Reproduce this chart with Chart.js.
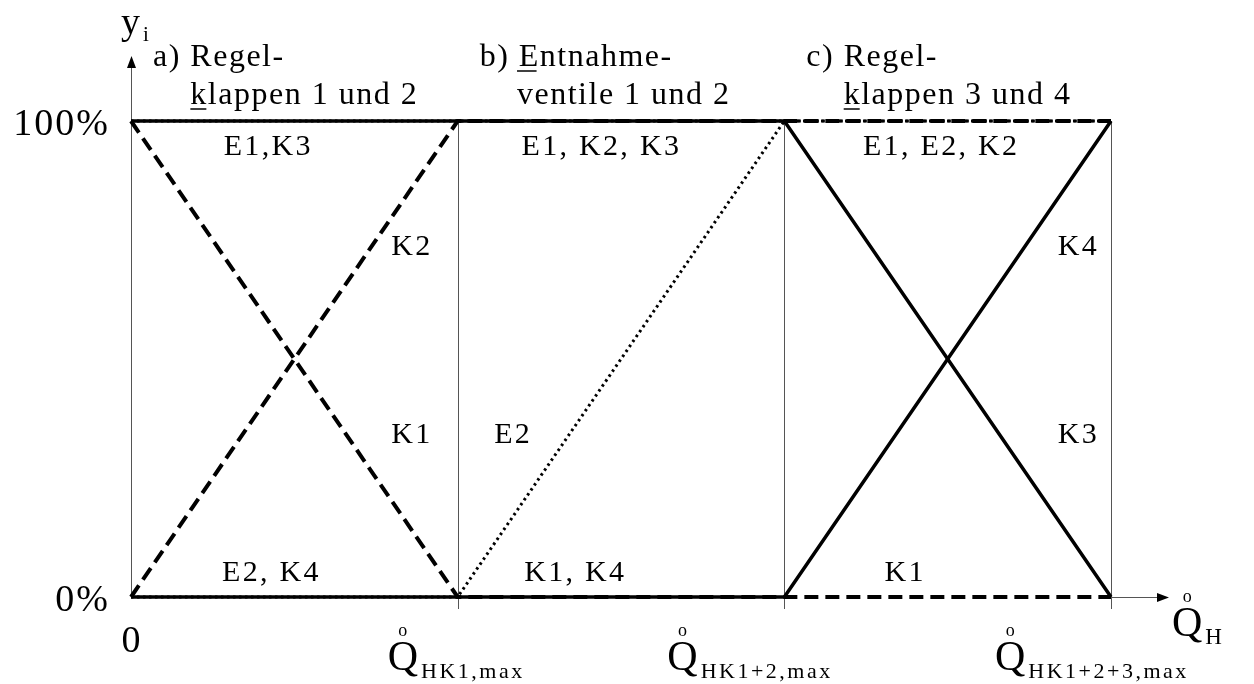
<!DOCTYPE html>
<html>
<head>
<meta charset="utf-8">
<script src="https://cdn.jsdelivr.net/npm/chart.js@4.4.0/dist/chart.umd.min.js"></script>
<style>
  html, body { margin: 0; padding: 0; background: #fff; }
  #wrap { width: 1254px; height: 684px; }
</style>
</head>
<body>
<div id="wrap"><canvas id="chart" width="1254" height="684"></canvas></div>
<script>
// x positions: 0, Q HK1,max, Q HK1+2,max, Q HK1+2+3,max
var xPos = [0, 1, 2, 3];
var xTickMain = ['0', 'Q', 'Q', 'Q'];
var xTickSub = ['', 'HK1,max', 'HK1+2,max', 'HK1+2+3,max'];
var yTicks = [0, 100];
var yTickLabels = ['0%', '100%'];

// valve positions y_i in % at each x position
var E1 = [100, 100, 100, 100];
var E2 = [0, 0, 100, 100];
var K1 = [100, 0, 0, 0];
var K2 = [0, 100, 100, 100];
var K3 = [100, 100, 100, 0];
var K4 = [0, 0, 0, 100];

// labels written inside the plot (x, y in data units)
var curveLabels = [
  { text: 'E1,K3', x: 0.42, y: 94.5 },
  { text: 'K2', x: 0.86, y: 73.5 },
  { text: 'K1', x: 0.86, y: 34 },
  { text: 'E2, K4', x: 0.43, y: 5 },
  { text: 'E1, K2, K3', x: 1.44, y: 94.5 },
  { text: 'E2', x: 1.17, y: 34 },
  { text: 'K1, K4', x: 1.36, y: 5 },
  { text: 'E1, E2, K2', x: 2.48, y: 94.5 },
  { text: 'K4', x: 2.9, y: 73.5 },
  { text: 'K3', x: 2.9, y: 34 },
  { text: 'K1', x: 2.37, y: 5 }
];

// section headings, underline marks the first letter of line 2 (or line 1 for b)
var sections = [
  { x: 0, line1: 'a) Regel-', line2: 'klappen 1 und 2', ul: 2 },
  { x: 1, line1: 'b) Entnahme-', line2: 'ventile 1 und 2', ul: 1 },
  { x: 2, line1: 'c) Regel-', line2: 'klappen 3 und 4', ul: 2 }
];

function pts(arr) {
  return xPos.map(function(x, i) { return { x: x, y: arr[i] }; });
}

var SERIF = '"Liberation Serif", "Times New Roman", serif';

function txt(ctx, s, x, y, size, spacing, align) {
  ctx.font = size + 'px ' + SERIF;
  ctx.letterSpacing = (spacing || 0) + 'px';
  ctx.textAlign = align || 'left';
  ctx.fillText(s, x, y);
  return ctx.measureText(s).width;
}

var drawExtras = {
  id: 'drawExtras',
  beforeDatasetsDraw: function(chart) {
    var ctx = chart.ctx;
    var xs = chart.scales.x, ys = chart.scales.y;
    var y0 = ys.getPixelForValue(0), y100 = ys.getPixelForValue(100);
    ctx.save();
    ctx.strokeStyle = '#555';
    ctx.lineWidth = 1;
    // thin vertical lines with ticks below axis
    xPos.forEach(function(v) {
      var px = Math.round(xs.getPixelForValue(v)) + 0.5;
      ctx.beginPath();
      ctx.moveTo(px, y100);
      ctx.lineTo(px, v === 0 ? y0 : y0 + 12);
      ctx.stroke();
    });
    // y axis with arrow
    var ax = Math.round(xs.getPixelForValue(0)) + 0.5;
    ctx.beginPath();
    ctx.moveTo(ax, y100);
    ctx.lineTo(ax, 66);
    ctx.stroke();
    ctx.fillStyle = '#000';
    ctx.beginPath();
    ctx.moveTo(ax, 56);
    ctx.lineTo(ax - 4.5, 68);
    ctx.lineTo(ax + 4.5, 68);
    ctx.closePath();
    ctx.fill();
    // x axis with arrow
    var xr = xs.getPixelForValue(3);
    var ay = Math.round(y0) + 0.5;
    ctx.beginPath();
    ctx.moveTo(xr, ay);
    ctx.lineTo(1158, ay);
    ctx.stroke();
    ctx.beginPath();
    ctx.moveTo(1169, ay);
    ctx.lineTo(1157, ay - 4.5);
    ctx.lineTo(1157, ay + 4.5);
    ctx.closePath();
    ctx.fill();
    ctx.restore();
  },
  afterDatasetsDraw: function(chart) {
    var ctx = chart.ctx;
    var xs = chart.scales.x, ys = chart.scales.y;
    ctx.save();
    ctx.fillStyle = '#000';
    ctx.strokeStyle = '#000';
    ctx.textBaseline = 'alphabetic';

    // y axis title
    txt(ctx, 'y', 121, 34, 38, 0);
    txt(ctx, 'i', 143, 41, 21, 0);

    // y tick labels
    yTicks.forEach(function(v, i) {
      txt(ctx, yTickLabels[i], 110, ys.getPixelForValue(v) + 14, 38, 2, 'right');
    });

    // x tick labels
    var qOff = [0, -70, -117, -116];
    xPos.forEach(function(v, i) {
      var px = xs.getPixelForValue(v);
      if (xTickSub[i] === '') {
        txt(ctx, xTickMain[i], px, 652, 38, 0, 'center');
        return;
      }
      var left = px + qOff[i];
      var w = txt(ctx, xTickMain[i], left, 670, 42, 0);
      txt(ctx, 'o', left + w / 2, 636, 18, 0, 'center');
      txt(ctx, xTickSub[i], left + w + 3, 678, 22, 2.5);
    });

    // axis title Q_H
    var wq = txt(ctx, 'Q', 1172, 636, 42, 0);
    txt(ctx, 'o', 1172 + wq / 2, 602, 18, 0, 'center');
    txt(ctx, 'H', 1172 + wq + 3, 644, 23, 0);

    // curve labels
    ctx.textBaseline = 'middle';
    curveLabels.forEach(function(l) {
      txt(ctx, l.text, xs.getPixelForValue(l.x), ys.getPixelForValue(l.y), 30, 2.3, 'center');
    });
    ctx.textBaseline = 'alphabetic';

    // section headings
    sections.forEach(function(s) {
      var left = xs.getPixelForValue(s.x) + 22;
      txt(ctx, s.line1, left, 66, 32, 1.5);
      ctx.font = '32px ' + SERIF;
      ctx.letterSpacing = '1.5px';
      var indent = ctx.measureText('a) ').width;
      txt(ctx, s.line2, left + indent, 104, 32, 1.5);
      // underline first letter
      var ux = left + indent, uw, uy;
      if (s.ul === 1) {
        uw = ctx.measureText('E').width - 1.5;
        uy = 71;
      } else {
        uw = ctx.measureText('k').width - 1.5;
        uy = 109;
      }
      ctx.lineWidth = 1.5;
      ctx.beginPath();
      ctx.moveTo(ux, uy);
      ctx.lineTo(ux + uw, uy);
      ctx.stroke();
    });
    ctx.restore();
  }
};

function ds(label, arr, dash, width) {
  return {
    label: label,
    data: pts(arr),
    borderColor: '#000',
    borderWidth: width,
    borderDash: dash,
    borderCapStyle: 'butt',
    pointRadius: 0,
    tension: 0,
    fill: false,
    clip: false
  };
}

new Chart(document.getElementById('chart'), {
  type: 'line',
  data: {
    datasets: [
      ds('K3', K3, [], 3.5),
      ds('K4', K4, [], 3.5),
      ds('K1', K1, [14, 7], 4),
      ds('K2', K2, [14, 7], 4),
      ds('E1', E1, [2.5, 3.5], 3),
      ds('E2', E2, [2.5, 3.5], 3)
    ]
  },
  options: {
    responsive: false,
    animation: false,
    events: [],
    layout: { padding: { left: 131, right: 143, top: 121, bottom: 87 } },
    plugins: { legend: { display: false }, tooltip: { enabled: false } },
    scales: {
      x: { type: 'linear', min: 0, max: 3, display: false },
      y: { type: 'linear', min: 0, max: 100, display: false }
    }
  },
  plugins: [drawExtras]
});
</script>
</body>
</html>
